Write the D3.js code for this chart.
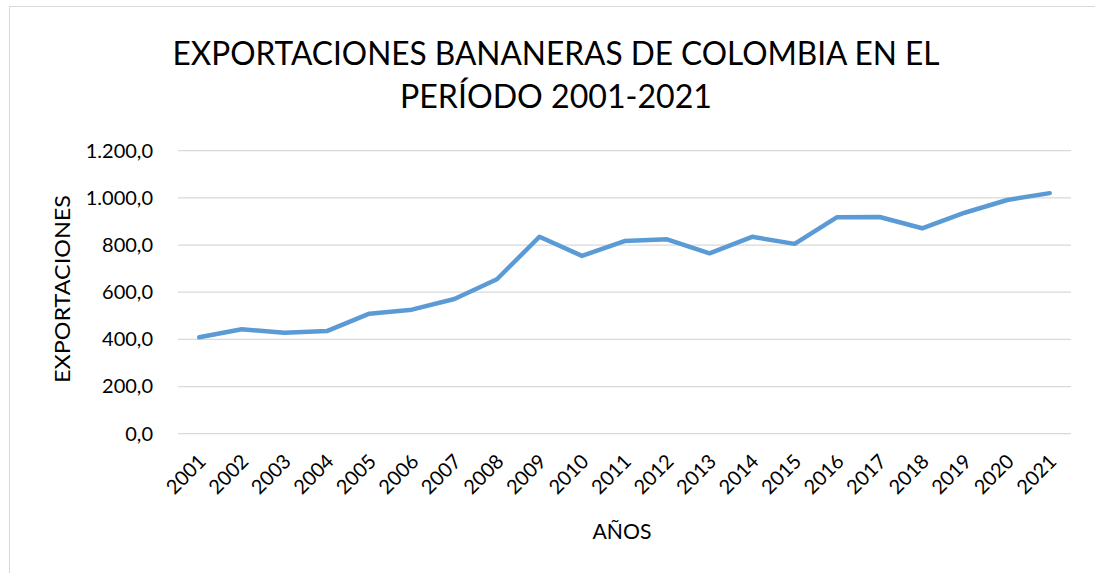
<!DOCTYPE html>
<html>
<head>
<meta charset="utf-8">
<script src="https://cdn.jsdelivr.net/npm/d3@7"></script>
<style>
  html, body { margin: 0; padding: 0; background: #fff; }
  svg { display: block; }
  text { font-family: Lato, "Open Sans", "DejaVu Sans", sans-serif; fill: #000; }
</style>
</head>
<body>
<svg id="chart" width="1095" height="573"></svg>
<script>
const years = ["2001","2002","2003","2004","2005","2006","2007","2008","2009","2010","2011",
               "2012","2013","2014","2015","2016","2017","2018","2019","2020","2021"];
const exportsValues = [409, 443, 428, 435, 509, 526, 571, 655, 835, 754, 817,
                       824, 765, 835, 805, 918, 919, 871, 937, 991, 1020];
const yTicks = [0, 200, 400, 600, 800, 1000, 1200];
const titleLines = ["EXPORTACIONES BANANERAS DE COLOMBIA EN EL", "PERÍODO 2001-2021"];
const xTitle = "AÑOS";
const yTitle = "EXPORTACIONES";

const svg = d3.select("#chart");
const W = 1095, H = 573;
const plot = { left: 178, right: 1071, top: 150.7, bottom: 433.7 };

// chart frame
svg.append("rect").attr("x", 9.5).attr("y", 6.5).attr("width", W + 10).attr("height", H + 10)
  .attr("fill", "#fff").attr("stroke", "#d9d9d9").attr("stroke-width", 1);

const x = d3.scaleBand().domain(years).range([plot.left, plot.right]);
const y = d3.scaleLinear().domain([0, 1200]).range([plot.bottom, plot.top]);

const fmt = v => {
  const s = d3.format(",.1f")(v);
  return s.replace(/,/g, "#").replace(/\./g, ",").replace(/#/g, ".");
};

// gridlines
svg.append("g").selectAll("line").data(yTicks).join("line")
  .attr("x1", plot.left).attr("x2", plot.right)
  .attr("y1", d => y(d)).attr("y2", d => y(d))
  .attr("stroke", "#d9d9d9").attr("stroke-width", 1.3);

// y axis labels
const yAxis = d3.axisLeft(y).tickValues(yTicks).tickFormat(fmt).tickSize(0).tickPadding(25);
const gy = svg.append("g").attr("transform", `translate(${plot.left},0)`).call(yAxis);
gy.select(".domain").remove();
gy.selectAll("text").attr("font-size", 20).style("font-family", "Lato, 'Open Sans', sans-serif").attr("fill", "#000");

// x axis labels
const xAxis = d3.axisBottom(x).tickSize(0).tickPadding(0);
const gx = svg.append("g").attr("transform", `translate(0,${plot.bottom})`).call(xAxis);
gx.select(".domain").remove();
gx.selectAll("text")
  .attr("font-size", 20).style("font-family", "Lato, 'Open Sans', sans-serif").attr("fill", "#000")
  .attr("text-anchor", "end")
  .attr("dy", "0")
  .attr("y", 0)
  .attr("transform", "translate(8,29) rotate(-45)");

// line
const line = d3.line().x((d, i) => x(years[i]) + x.bandwidth() / 2).y(d => y(d));
svg.append("path").datum(exportsValues)
  .attr("d", line).attr("fill", "none")
  .attr("stroke", "#5b9bd5").attr("stroke-width", 4.5)
  .attr("stroke-linejoin", "round").attr("stroke-linecap", "round");

// title
svg.append("text").attr("x", 556).attr("y", 65).attr("text-anchor", "middle")
  .attr("font-size", 33).attr("textLength", 767).attr("lengthAdjust", "spacingAndGlyphs")
  .text(titleLines[0]);
svg.append("text").attr("x", 556).attr("y", 108).attr("text-anchor", "middle")
  .attr("font-size", 33).attr("textLength", 312).attr("lengthAdjust", "spacingAndGlyphs")
  .text(titleLines[1]);

// axis titles
svg.append("text").attr("x", 622).attr("y", 539).attr("text-anchor", "middle")
  .attr("font-size", 22).attr("textLength", 59).attr("lengthAdjust", "spacingAndGlyphs").text(xTitle);
svg.append("text").attr("transform", "translate(70,289) rotate(-90)").attr("text-anchor", "middle")
  .attr("font-size", 22).attr("textLength", 188).attr("lengthAdjust", "spacingAndGlyphs").text(yTitle);
</script>
</body>
</html>
